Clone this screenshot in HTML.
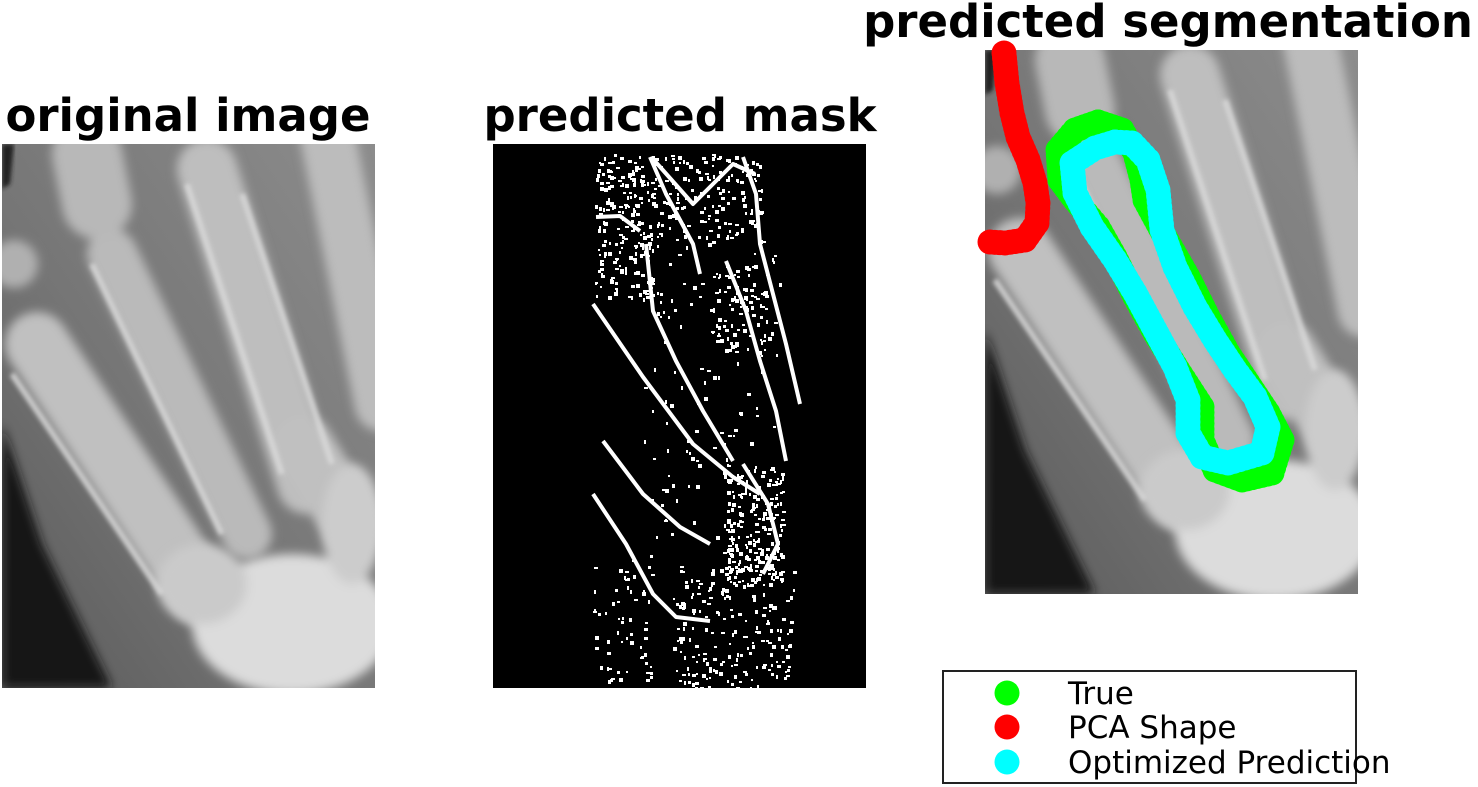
<!DOCTYPE html>
<html><head><meta charset="utf-8">
<style>
html,body{margin:0;padding:0;background:#fff;}
body{width:1478px;height:787px;overflow:hidden;position:relative;font-family:"DejaVu Sans","Liberation Sans",sans-serif;}
svg{position:absolute;left:0;top:0;}
.title{font-family:"DejaVu Sans","Liberation Sans",sans-serif;font-weight:bold;font-size:45px;fill:#000;}
.leg{font-family:"DejaVu Sans","Liberation Sans",sans-serif;font-size:31px;fill:#000;}
</style></head>
<body>
<svg id="fig" width="1478" height="787" viewBox="0 0 1478 787">
<defs>
  <filter id="blur6" x="-20%" y="-20%" width="140%" height="140%"><feGaussianBlur stdDeviation="5"/></filter>
  <filter id="blur3"><feGaussianBlur stdDeviation="2"/></filter>
  <linearGradient id="bg" x1="1" y1="0" x2="0" y2="1">
    <stop offset="0" stop-color="#8c8c8c"/>
    <stop offset="0.55" stop-color="#767676"/>
    <stop offset="1" stop-color="#5a5a5a"/>
  </linearGradient>
  <clipPath id="clipX"><rect x="0" y="0" width="373" height="544"/></clipPath>
  <g id="xray" clip-path="url(#clipX)">
    <rect x="0" y="0" width="373" height="544" fill="url(#bg)"/>
    <polygon points="0,280 40,400 110,544 0,544" fill="#151515" filter="url(#blur6)"/>
    <polygon points="0,0 12,0 8,40 0,45" fill="#222" filter="url(#blur3)"/>
    <g filter="url(#blur6)" stroke-linecap="round" fill="none">
      <line x1="35" y1="200" x2="200" y2="450" stroke="#c0c0c0" stroke-width="64"/>
      <line x1="110" y1="110" x2="245" y2="390" stroke="#bababa" stroke-width="50"/>
      <line x1="205" y1="25" x2="305" y2="340" stroke="#bebebe" stroke-width="60"/>
      <line x1="325" y1="-10" x2="380" y2="260" stroke="#bcbcbc" stroke-width="55"/>
      <line x1="85" y1="10" x2="95" y2="60" stroke="#b8b8b8" stroke-width="70"/>
      <circle cx="12" cy="120" r="24" fill="#b0b0b0"/>
      <line x1="300" y1="300" x2="350" y2="380" stroke="#c0c0c0" stroke-width="60"/>
    </g>
    <g filter="url(#blur6)">
      <ellipse cx="290" cy="480" rx="100" ry="70" fill="#dcdcdc"/>
      <ellipse cx="200" cy="440" rx="45" ry="40" fill="#cacaca"/>
      <ellipse cx="350" cy="380" rx="30" ry="60" fill="#cccccc"/>
    </g>
    <g filter="url(#blur3)" stroke="#dadada" stroke-width="6" fill="none" opacity="0.85">
      <line x1="10" y1="230" x2="160" y2="450"/>
      <line x1="90" y1="120" x2="220" y2="390"/>
      <line x1="185" y1="40" x2="280" y2="330"/>
      <line x1="240" y1="50" x2="330" y2="320"/>
    </g>
  </g>
</defs>

<!-- Panel 1 -->
<text class="title" x="188" y="131" text-anchor="middle">original image</text>
<use href="#xray" x="2" y="144"/>

<!-- Panel 2 -->
<text class="title" x="680" y="131" text-anchor="middle">predicted mask</text>
<g transform="translate(493,144)">
  <rect x="0" y="0" width="373" height="544" fill="#000"/>
  <g id="maskLines" stroke="#fff" stroke-width="4" fill="none" stroke-linejoin="round"></g>
  <g id="maskSpeckle" fill="#fff"></g>
</g>

<!-- Panel 3 -->
<text class="title" x="1168" y="37" text-anchor="middle">predicted segmentation</text>
<use href="#xray" x="985" y="50"/>
<g id="series"></g>

<!-- Legend -->
<g>
  <rect x="943" y="671" width="413" height="112" fill="#fff" stroke="#222" stroke-width="2"/>
  <circle cx="1007" cy="693" r="12.5" fill="#00ff00"/>
  <text class="leg" x="1068" y="704">True</text>
  <circle cx="1007" cy="727" r="12.5" fill="#ff0000"/>
  <text class="leg" x="1068" y="738">PCA Shape</text>
  <circle cx="1007" cy="762" r="12.5" fill="#00ffff"/>
  <text class="leg" x="1068" y="773">Optimized Prediction</text>
</g>
</svg>

<script>
// Series point data (image pixel coordinates within segmentation panel)
const trueX = [113,90,73,75,90,113,130,150,170,193,217,217,230,257,287,297,283,263,243,223,203,180,160,157,150,137,113];
const trueY = [72,80,100,130,150,177,207,247,283,320,357,390,420,430,423,390,363,333,303,267,227,187,150,130,103,80,72];
const pcaX = [19,22,27,33,43,50,53,52,40,20,5];
const pcaY = [3,33,63,87,110,133,153,173,190,193,192];
const optX = [130,110,87,90,107,130,150,170,190,203,203,217,243,277,283,270,250,230,210,190,177,173,163,147,130];
const optY = [92,98,113,143,177,210,243,280,317,350,383,407,413,403,377,347,320,290,257,217,180,140,110,93,92];

const NS = 'http://www.w3.org/2000/svg';
const ox = 985, oy = 50;
function sx(v){ return ox + v; }
function sy(v){ return oy + v; }

function drawSeries(xs, ys, color, name, closed){
  const g = document.getElementById('series');
  const grp = document.createElementNS(NS,'g');
  
  
  g.appendChild(grp);
  const n = xs.length;
  const segs = closed ? n : n - 1;
  for (let i = 0; i < segs; i++){
    const x0 = sx(xs[i]), y0 = sy(ys[i]);
    const x1 = sx(xs[(i+1)%n]), y1 = sy(ys[(i+1)%n]);
    const d = Math.hypot(x1-x0, y1-y0);
    const steps = Math.max(1, Math.ceil(d/6));
    for (let k = 0; k < steps; k++){
      const t = k/steps;
      const c = document.createElementNS(NS,'circle');
      c.setAttribute('cx', x0 + (x1-x0)*t);
      c.setAttribute('cy', y0 + (y1-y0)*t);
      c.setAttribute('r', 12.5);
      c.setAttribute('fill', color);
      
      
      grp.appendChild(c);
    }
  }
  if (!closed){
    const c = document.createElementNS(NS,'circle');
    c.setAttribute('cx', sx(xs[n-1])); c.setAttribute('cy', sy(ys[n-1]));
    c.setAttribute('r', 12.5); c.setAttribute('fill', color);
    
    
    grp.appendChild(c);
  }
}
drawSeries(trueX, trueY, '#00ff00', 'true-series', true);
drawSeries(pcaX, pcaY, '#ff0000', 'pca-shape-series', false);
drawSeries(optX, optY, '#00ffff', 'optimized-prediction-series', true);

// Mask edge lines (decorative)
const maskPaths = [
  "M100,160 L150,233 L200,300 L240,333 L267,350",
  "M100,350 L133,400 L160,450 L183,473 L217,477",
  "M110,297 L150,350 L187,383 L217,400",
  "M157,13 L173,50 L200,100 L207,130",
  "M250,13 L263,50 L267,100 L280,150 L293,200 L307,260",
  "M153,100 L160,167 L183,217 L210,267 L240,317",
  "M233,117 L253,167 L267,217 L283,267 L293,317",
  "M103,73 L127,72 L147,87",
  "M160,15 L200,60 L240,20 L262,30",
  "M250,320 L275,360 L285,400 L270,430"
];
const ml = document.getElementById('maskLines');
maskPaths.forEach(function(p){
  const e = document.createElementNS(NS,'path');
  e.setAttribute('d', p);
  
  
  ml.appendChild(e);
});
// Speckle noise regions (decorative texture, deterministic)
let seed = 12345;
function rnd(){ seed = (seed*1103515245 + 12345) % 2147483648; return seed/2147483648; }
const regions = [[100,10,60,60,90],[160,10,110,90,160],[100,75,60,80,110],[215,120,60,90,90],[230,320,60,120,200],[100,410,60,130,60],[180,420,120,124,200],[150,100,140,300,120]];
const sp = document.getElementById('maskSpeckle');
regions.forEach(function(r){
  for (let i = 0; i < r[4]; i++){
    const e = document.createElementNS(NS,'rect');
    e.setAttribute('x', (r[0] + rnd()*r[2]).toFixed(0));
    e.setAttribute('y', (r[1] + rnd()*r[3]).toFixed(0));
    e.setAttribute('width', 2 + Math.floor(rnd()*3));
    e.setAttribute('height', 2 + Math.floor(rnd()*3));
    
    
    sp.appendChild(e);
  }
});
</script>
</body></html>
